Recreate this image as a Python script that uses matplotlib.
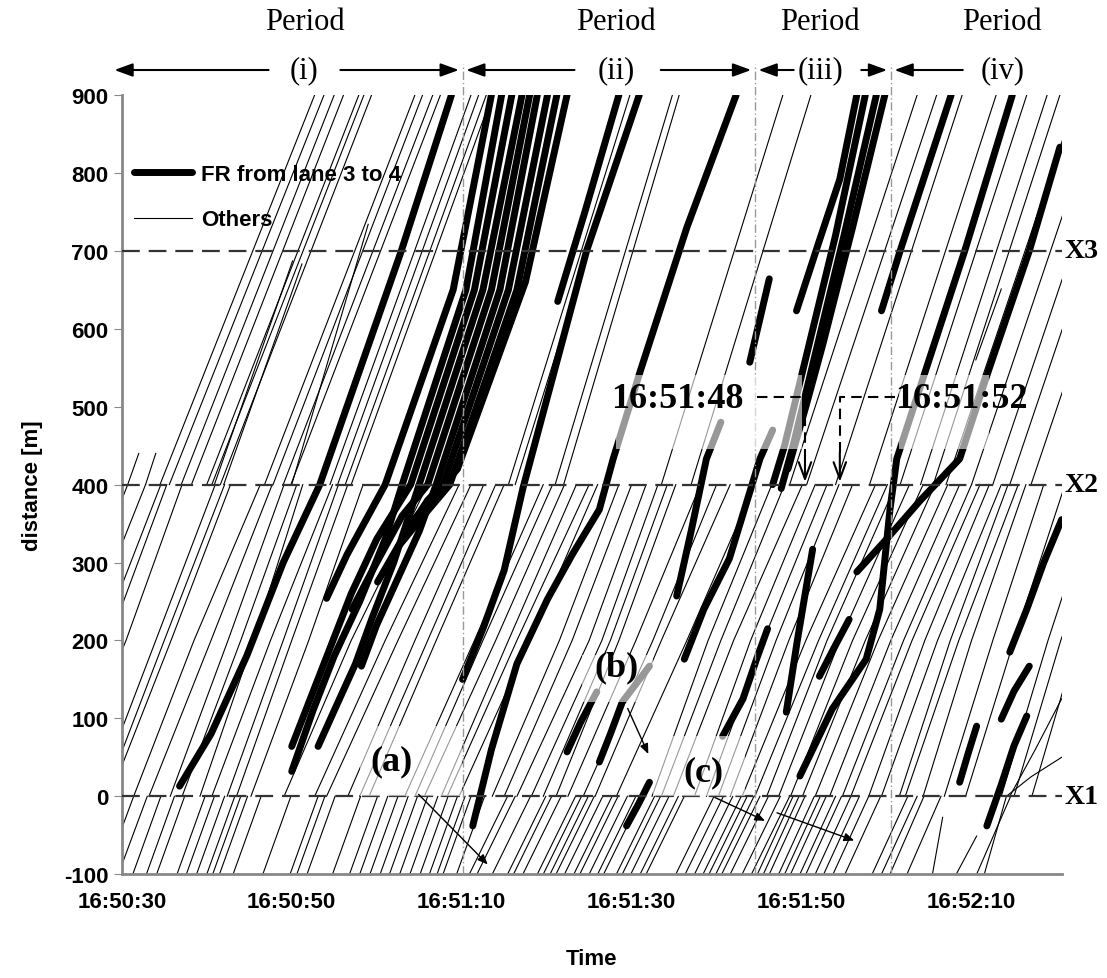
# %%
import numpy as np
import matplotlib.pyplot as plt

# time is seconds after 16:50:30, distance in m
t_ticks = [0, 20, 40, 60, 80, 100]
t_labels = ["16:50:30", "16:50:50", "16:51:10", "16:51:30", "16:51:50", "16:52:10"]
d_ticks = list(range(-100, 901, 100))
t_end = 110.6

period_bounds = [40.1, 74.5, 90.5]
detector_pos = [0, 400, 700]
detector_names = ["X1", "X2", "X3"]

# FR vehicles (lane 3 -> 4), (t, x) points
fr_trajs = [
    # period (i)
    [(6.8, 13), (10.5, 80), (14.7, 180), (19.0, 300), (23.3, 400), (32.9, 700), (38.8, 900)],
    [(20.0, 32), (22.5, 110), (25.0, 180), (28.0, 250), (31.0, 330), (33.0, 400), (40.5, 650), (44.7, 900)],
    [(20.0, 64), (22.0, 120), (24.5, 190), (27.0, 260), (30.0, 330), (34.0, 400), (41.5, 650), (45.9, 900)],
    [(23.1, 64), (25.0, 110), (27.5, 170), (29.5, 230), (32.0, 300), (35.0, 400), (42.5, 650), (47.1, 900)],
    [(24.1, 254), (26.5, 310), (29.0, 360), (31.0, 400), (39.0, 650), (43.5, 900)],
    [(27.1, 240), (29.5, 290), (33.0, 360), (36.0, 400), (43.5, 650), (48.0, 900)],
    [(28.2, 167), (30.0, 220), (32.5, 280), (35.0, 340), (37.0, 400), (44.5, 650), (48.9, 900)],
    [(30.1, 275), (33.0, 330), (36.0, 380), (37.8, 400), (45.5, 650), (50.1, 900)],
    [(32.5, 320), (35.5, 360), (38.6, 400), (46.5, 650), (51.2, 900)],
    [(34.0, 350), (39.5, 420), (47.5, 660), (52.4, 900)],
    # period (ii)
    [(40.1, 150), (42.5, 215), (45.0, 290), (47.2, 395), (54.7, 700), (60.9, 900)],
    [(41.3, -38), (43.5, 60), (46.5, 170), (50.1, 253), (53.0, 310), (56.2, 368),
     (57.8, 432), (61.0, 545), (66.5, 730), (72.3, 900)],
    [(51.3, 635), (54.5, 750), (58.5, 900)],
    [(52.4, 57), (54.0, 95), (55.9, 134)],
    [(56.2, 44), (57.5, 80), (58.9, 121), (62.1, 167)],
    [(59.4, -38), (60.8, -10), (62.1, 18)],
    [(65.3, 257), (67.0, 340), (68.8, 433), (70.5, 480)],
    [(66.2, 176), (68.5, 240), (71.5, 305), (75.1, 433), (76.6, 470)],
    [(70.7, 77), (73.1, 125), (74.7, 176), (76.0, 215)],
    # period (iii)
    [(73.9, 557), (76.2, 664)],
    [(78.2, 108), (79.5, 200), (81.3, 317)],
    [(82.1, 154), (83.8, 190), (85.6, 227)],
    [(79.4, 623), (82.0, 710), (84.5, 792), (86.5, 900)],
    [(76.6, 400), (78.0, 450), (80.0, 540), (84.0, 720), (87.5, 900)],
    [(77.6, 395), (79.0, 450), (81.0, 540), (85.0, 720), (88.8, 900)],
    [(78.4, 420), (80.5, 500), (82.5, 580), (86.0, 730), (89.8, 900)],
    [(79.8, 26), (83.6, 112), (87.6, 176), (89.2, 240), (90.4, 368), (91.2, 433), (95.0, 560), (99.2, 700), (104.8, 900)],
    [(86.5, 288), (90.0, 330), (94.0, 380), (98.6, 433), (101.8, 540), (106.8, 700), (110.4, 833)],
    [(89.4, 623), (91.6, 700), (97.6, 900)],
    # period (iv)
    [(104.5, 185), (106.5, 240), (108.5, 300), (110.6, 355)],
    [(103.5, 99), (105.0, 135), (106.8, 167)],
    [(101.8, -38), (103.5, 15), (105.0, 65), (106.5, 103)],
    [(98.6, 18), (99.6, 55), (100.6, 90)],
]

# other vehicles, upper section: (t at 400 m, t at 900 m)
thin_upper = [
    (4.5, 22.7), (5.6, 23.8), (7.0, 25.0), (8.2, 26.1), (10.0, 27.9), (10.6, 28.5),
    (11.6, 29.4), (16.8, 34.5), (17.8, 35.4), (19.0, 36.6), (19.9, 37.5),
    (24.5, 41.1), (25.4, 42.0), (26.3, 42.9), (27.0, 43.6),
    (45.5, 59.8), (46.3, 60.6), (51.0, 64.8), (52.0, 65.6), (63.5, 77.8), (67.0, 81.1),
    (78.6, 93.6), (80.6, 95.9), (84.0, 98.9), (88.0, 102.9), (91.6, 106.5),
    (94.0, 108.9), (95.5, 110.4), (97.0, 112.5), (100.0, 115.5), (102.5, 118.0),
    (104.5, 120.0), (107.0, 122.5),
]

# other vehicles that enter or leave inside the plot: (t, x) points
thin_part = [
    [(10.9, 400), (20.1, 687)], [(12.0, 400), (21.2, 683)], [(20.0, 400), (29.0, 734)],
    [(0.7, 400), (2.0, 440)], [(2.8, 400), (4.0, 440)],
    [(95.4, -100), (96.6, -27)], [(98.2, -100), (100.6, -51)],
    [(101.5, -100), (104.1, 0), (107.0, 25), (110.6, 50)],
    [(104.5, 0), (107.5, 60), (110.6, 125)],
    [(100.5, 560), (103.5, 651)],
]

# other vehicles, middle section: (t at 0 m, t at 200 m, t at 400 m)
thin_mid = [
    (-14.0, -6.5, 0.7), (-12.0, -4.5, 2.8), (-10.0, -2.5, 4.6), (-9.0, -1.5, 5.3),
    (-7.0, 0.5, 7.1), (-3.0, 4.0, 11.0), (-2.0, 5.0, 12.1), (-1.4, 5.8, 12.8),
    (1.4, 8.5, 16.3), (3.2, 10.5, 17.7), (5.7, 12.5, 19.1), (7.1, 14.0, 20.6),
    (9.2, 15.5, 21.3), (10.6, 17.5, 24.8), (12.4, 19.0, 25.5), (13.5, 20.0, 26.6),
    (15.2, 22.0, 28.4), (19.1, 27.0, 36.0), (22.7, 31.0, 39.7), (24.1, 32.5, 41.1),
    (26.6, 34.5, 42.6), (28.0, 36.0, 44.0), (29.1, 37.0, 45.0), (33.3, 41.5, 49.6),
    (34.5, 42.5, 50.7), (35.6, 44.0, 52.1), (37.6, 45.5, 53.5), (38.3, 46.5, 55.0),
    (39.7, 48.0, 56.0), (43.6, 51.5, 58.5), (45.0, 53.0, 60.0), (46.5, 55.0, 61.7),
    (48.2, 56.5, 63.1), (49.6, 57.5, 64.2), (51.1, 58.5, 65.2), (52.5, 60.5, 68.1),
    (54.3, 62.5, 70.0), (55.7, 63.5, 71.6), (58.2, 66.5, 74.5),
    (62.4, 69.0, 76.5), (63.5, 70.5, 78.0), (64.9, 72.0, 80.1), (67.4, 74.0, 81.6),
    (68.8, 75.5, 83.0), (70.2, 77.0, 84.4), (71.6, 78.5, 86.0), (73.0, 80.5, 88.7),
    (74.5, 82.0, 90.1), (75.9, 83.0, 91.1), (77.3, 84.5, 92.7), (78.7, 86.0, 94.3),
    (80.1, 87.5, 95.7), (81.6, 89.0, 97.2), (83.3, 90.5, 98.6), (84.8, 92.0, 100.0),
    (85.8, 93.0, 101.0), (87.9, 94.5, 102.1), (89.4, 96.0, 103.5), (91.5, 97.5, 104.3),
    (92.2, 98.5, 105.5), (94.3, 100.0, 106.4), (96.8, 102.5, 108.5), (99.3, 105.0, 111.0),
    (103.5, 109.0, 115.0), (105.0, 110.5, 117.0), (107.1, 112.5, 119.0),
]

# other vehicles, lower section: (t at -100 m, t at 0 m)
thin_low = [
    (-2.0, 1.4), (-0.4, 3.0), (1.3, 4.6), (2.9, 6.2), (4.1, 7.4), (6.5, 9.8),
    (7.6, 10.9), (8.8, 12.1), (10.0, 13.3), (10.7, 14.0), (11.5, 14.8), (13.1, 16.4),
    (16.6, 19.9), (19.8, 23.1), (20.6, 23.9), (21.8, 25.1), (24.8, 28.1), (26.8, 30.1),
    (28.0, 31.3), (29.2, 32.5), (30.4, 33.7), (31.5, 34.8), (32.7, 36.0), (33.9, 37.2),
    (35.1, 38.4), (36.2, 39.5), (37.1, 40.4), (37.8, 41.1), (39.4, 42.7),
    (40.9, 45.4), (41.8, 46.3), (43.6, 48.1), (45.4, 49.9), (46.1, 50.6), (47.2, 51.7),
    (48.9, 53.4), (49.6, 54.1), (50.4, 54.9), (51.1, 55.6), (52.1, 56.6), (53.2, 57.7),
    (53.9, 58.4), (55.0, 59.5), (56.0, 60.5), (56.7, 61.2), (58.2, 62.7), (58.9, 63.4),
    (59.9, 64.4), (61.0, 65.5), (61.7, 66.2), (65.2, 69.7), (66.3, 70.8), (67.4, 71.9),
    (68.4, 72.9), (69.1, 73.6), (69.9, 74.4), (70.6, 75.1), (71.6, 76.1), (73.0, 77.5),
    (74.1, 78.6), (74.8, 79.0), (75.5, 79.7), (76.2, 80.4), (77.3, 81.5), (78.0, 82.2),
    (78.7, 82.9), (79.8, 84.0), (80.5, 84.7), (81.6, 85.8), (82.6, 86.8), (83.7, 87.9),
    (85.1, 89.3), (88.3, 92.5), (89.4, 93.6), (90.4, 94.4), (92.4, 96.4), (100.6, 104.6),
]

# %%
plt.rcParams["font.family"] = ["Liberation Sans", "DejaVu Sans"]
plt.rcParams["axes.unicode_minus"] = False
serif = ["Liberation Serif", "DejaVu Serif"]

fig = plt.figure(figsize=(11.07, 9.79), dpi=100)
ax = fig.add_axes([0.110, 0.106, 0.849, 0.796])

thin = dict(color="black", lw=0.8, zorder=2)
for x4, x9 in thin_upper:
    ax.plot([x4, x9], [400, 900], **thin)
for t0, t2, t4 in thin_mid:
    ax.plot([t0, t2, t4], [0, 200, 400], **thin)
for tb, t0 in thin_low:
    ax.plot([tb, t0], [-100, 0], **thin)
for traj in thin_part:
    tt, xx = zip(*traj)
    ax.plot(tt, xx, **thin)
for traj in fr_trajs:
    tt, xx = zip(*traj)
    ax.plot(tt, xx, color="black", lw=5, solid_capstyle="round", zorder=3)

# detector lines
for pos, name in zip(detector_pos, detector_names):
    ax.axhline(pos, color="#333333", lw=1.6, dashes=(8, 4), zorder=4)
    ax.text(t_end + 0.3, pos, name, fontsize=20, fontweight="bold", family=serif,
            va="center", ha="left", clip_on=False)

# period boundaries
for tb in period_bounds:
    ax.plot([tb, tb], [-100, 940], color="#999999", lw=1, dashes=(6, 2, 1, 2),
            zorder=4, clip_on=False)

# faded label boxes
boxes = [(28.0, 0, 12.0, 90), (54.2, 121, 8.3, 60), (62.5, 0, 10.8, 78),
         (58.2, 446, 21.8, 94), (91.5, 446, 10.5, 94)]
for bx, by, bw, bh in boxes:
    ax.add_patch(plt.Rectangle((bx, by), bw, bh, facecolor="white", alpha=0.6,
                               edgecolor="none", zorder=5))

lab = dict(fontsize=26, fontweight="bold", family=serif, zorder=6)
ax.text(31.8, 45, "(a)", ha="center", va="center", **lab)
ax.text(58.2, 166, "(b)", ha="center", va="center", **lab)
ax.text(68.4, 31, "(c)", ha="center", va="center", **lab)
ax.text(65.4, 510, "16:51:48", ha="center", va="center", **lab)
ax.text(98.8, 510, "16:51:52", ha="center", va="center", **lab)

arr = dict(arrowstyle="-|>,head_length=0.6,head_width=0.25", color="black", lw=1.0)
ax.annotate("", xy=(43.3, -90), xytext=(34.7, 5), arrowprops=arr, zorder=6)
ax.annotate("", xy=(62.1, 51), xytext=(59.4, 116), arrowprops=arr, zorder=6)
ax.annotate("", xy=(76.0, -33), xytext=(69.5, 0), arrowprops=arr, zorder=6)
ax.annotate("", xy=(86.5, -58), xytext=(76.8, -20), arrowprops=arr, zorder=6)

# dashed pointers to X2
ax.plot([74.8, 80.4, 80.4], [512, 512, 440], color="black", lw=1.5, dashes=(5, 3), zorder=6)
ax.plot([91.0, 84.5, 84.5], [512, 512, 440], color="black", lw=1.5, dashes=(5, 3), zorder=6)
varr = dict(arrowstyle="->,head_length=1.2,head_width=0.45", color="black", lw=1.5)
ax.annotate("", xy=(80.4, 400), xytext=(80.4, 445), arrowprops=varr, zorder=6)
ax.annotate("", xy=(84.5, 400), xytext=(84.5, 445), arrowprops=varr, zorder=6)

# periods on top
per = dict(fontsize=22, family=serif, ha="center", va="center", annotation_clip=False)
head = dict(arrowstyle="-|>,head_length=1.1,head_width=0.4", color="black", lw=1.5)
spans = [(-1.2, 17.6, 21.5, 25.4, 40.0, "(i)"), (40.2, 53.6, 58.2, 63.1, 74.4, "(ii)"),
         (74.6, 79.4, 82.2, 86.7, 90.4, "(iii)"), (90.6, 99.3, 103.6, None, None, "(iv)")]
arrow_y = 932
for a0, a1, mid, b0, b1, name in spans:
    ax.annotate("", xy=(a0, arrow_y), xytext=(a1, arrow_y), arrowprops=head,
                annotation_clip=False)
    if b0 is not None:
        ax.annotate("", xy=(b1, arrow_y), xytext=(b0, arrow_y), arrowprops=head,
                    annotation_clip=False)
    ax.annotate(name, (mid, arrow_y + 1), **per)
    ax.annotate("Period", (mid, 994), **per)

# legend
h1 = plt.Line2D([], [], color="black", lw=5, solid_capstyle="round")
h2 = plt.Line2D([], [], color="black", lw=0.8)
ax.legend([h1, h2], ["FR from lane 3 to 4", "Others"], loc="upper left",
          bbox_to_anchor=(-0.008, 0.937), frameon=False, handlelength=2.6,
          handletextpad=0.4, labelspacing=1.1, prop=dict(size=16, weight="bold"))

ax.set_xlim(0, t_end)
ax.set_ylim(-100, 900)
ax.set_xticks(t_ticks, t_labels)
ax.set_yticks(d_ticks)
ax.tick_params(axis="x", length=0, pad=12, labelsize=16)
ax.tick_params(axis="y", length=6, color="#888888", direction="out", labelsize=16)
for lbl in ax.get_xticklabels() + ax.get_yticklabels():
    lbl.set_fontweight("bold")
ax.spines[["top", "right"]].set_visible(False)
ax.spines[["left", "bottom"]].set_color("#888888")
ax.spines[["left", "bottom"]].set_linewidth(2)
ax.set_xlabel("Time", fontsize=16, fontweight="bold", labelpad=26)
ax.set_ylabel("distance [m]", fontsize=16, fontweight="bold", labelpad=15)

fig.savefig("out.png", dpi=100)
